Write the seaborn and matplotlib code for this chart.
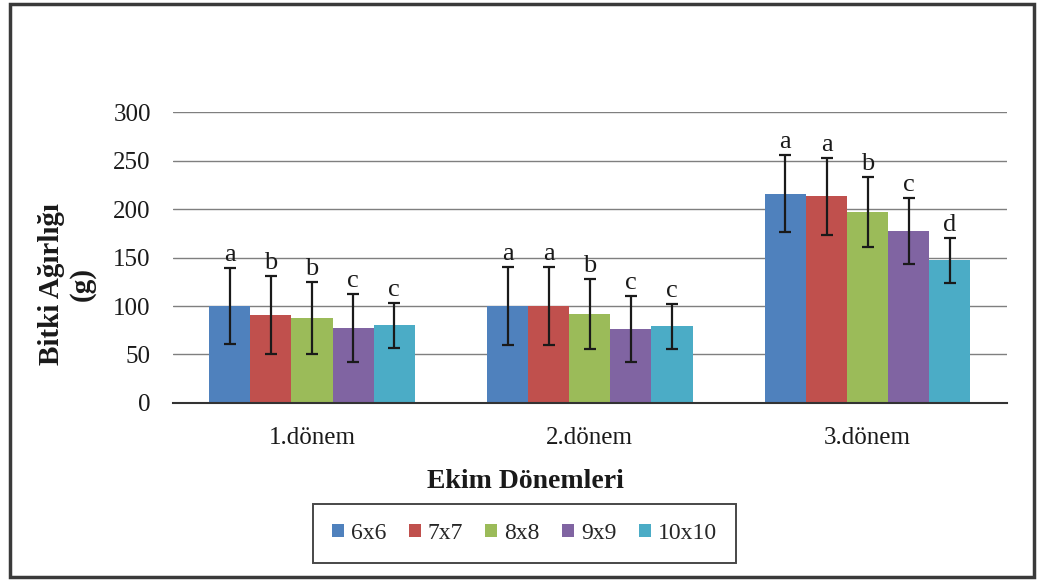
import numpy as np
import pandas as pd
import seaborn as sns
import matplotlib.pyplot as plt
from matplotlib.patches import Rectangle

# Plant weight (g) by sowing period and plant spacing
periods = ["1.dönem", "2.dönem", "3.dönem"]
spacings = ["6x6", "7x7", "8x8", "9x9", "10x10"]
weights = {
    "6x6":   [100, 100, 216],
    "7x7":   [91, 100, 213],
    "8x8":   [88, 92, 197],
    "9x9":   [77, 76, 177],
    "10x10": [80, 79, 147],
}
errors = {
    "6x6":   [39, 40, 40],
    "7x7":   [40, 40, 40],
    "8x8":   [37, 36, 36],
    "9x9":   [35, 34, 34],
    "10x10": [23, 23, 23],
}
letters = {
    "6x6":   ["a", "a", "a"],
    "7x7":   ["b", "a", "a"],
    "8x8":   ["b", "b", "b"],
    "9x9":   ["c", "c", "c"],
    "10x10": ["c", "c", "d"],
}
colors = ["#4F81BD", "#C0504D", "#9BBB59", "#8064A2", "#4BACC6"]

rows = []
for s in spacings:
    for i, p in enumerate(periods):
        rows.append({"Dönem": p, "Aralık": s, "Ağırlık": weights[s][i],
                     "Hata": errors[s][i], "Harf": letters[s][i]})
df = pd.DataFrame(rows)

sns.set_theme(style="white")
plt.rcParams["font.family"] = ["Liberation Serif", "DejaVu Serif"]

fig = plt.figure(figsize=(10.38, 5.84), dpi=100)
ax_w = 0.803
ax = fig.add_axes([0.1667, 0.310, ax_w, 0.498])

sns.barplot(data=df, x="Dönem", y="Ağırlık", hue="Aralık", order=periods,
            hue_order=spacings, palette=colors, width=0.74, gap=0,
            errorbar=None, saturation=1, ax=ax, legend=True, zorder=2,
            linewidth=0)

# Error bars and significance letters, placed on the drawn bars
for container, s in zip(ax.containers, spacings):
    for bar, p in zip(container, periods):
        r = df[(df["Aralık"] == s) & (df["Dönem"] == p)].iloc[0]
        xc = bar.get_x() + bar.get_width() / 2
        h = bar.get_height()
        ax.errorbar(xc, h, yerr=r["Hata"], fmt="none", ecolor="#1a1a1a",
                    elinewidth=1.6, capsize=4, capthick=1.6, zorder=3)
        ax.text(xc, h + r["Hata"] + 2, r["Harf"], ha="center", va="bottom",
                fontsize=19, color="#1a1a1a", zorder=4)

ax.set_ylim(0, 300)
ax.set_yticks(range(0, 301, 50))
ax.set_xlim(-0.5, 2.5)
ax.yaxis.grid(True, color="#7f7f7f", linewidth=1.0)
ax.set_axisbelow(True)
for side in ["top", "right", "left"]:
    ax.spines[side].set_visible(False)
ax.spines["bottom"].set_color("#333333")
ax.spines["bottom"].set_linewidth(1.5)
ax.tick_params(axis="y", labelsize=18, length=0, pad=16, colors="#1a1a1a")
ax.tick_params(axis="x", labelsize=18, length=0, pad=17, colors="#1a1a1a")

ax.set_xlabel("")
ax.set_ylabel("Bitki Ağırlığı\n(g)", fontsize=21, fontweight="bold",
              color="#1a1a1a", linespacing=1.2)
ax.yaxis.set_label_coords((96 - 173) / (ax_w * 1038), 0.41)

fig.text(525 / 1038, 1 - 481 / 584, "Ekim Dönemleri", ha="center", va="center",
         fontsize=20, fontweight="bold", color="#1a1a1a")

leg = ax.legend(loc="center", bbox_to_anchor=(524.5 / 1038, 1 - 533.5 / 584),
                bbox_transform=fig.transFigure, ncol=5, frameon=True,
                fontsize=17, handlelength=0.5, handleheight=0.5,
                handletextpad=0.3, columnspacing=0.95, borderpad=0.8,
                fancybox=False, title=None)
leg.get_frame().set_edgecolor("#1a1a1a")
leg.get_frame().set_linewidth(1.4)

# Outer chart border
fig.patches.append(Rectangle((10 / 1038, 1 - 577 / 584), 1024 / 1038, 573 / 584,
                             transform=fig.transFigure, fill=False,
                             edgecolor="#3a3a3a", linewidth=2.5))

fig.savefig("out.png", dpi=100)
